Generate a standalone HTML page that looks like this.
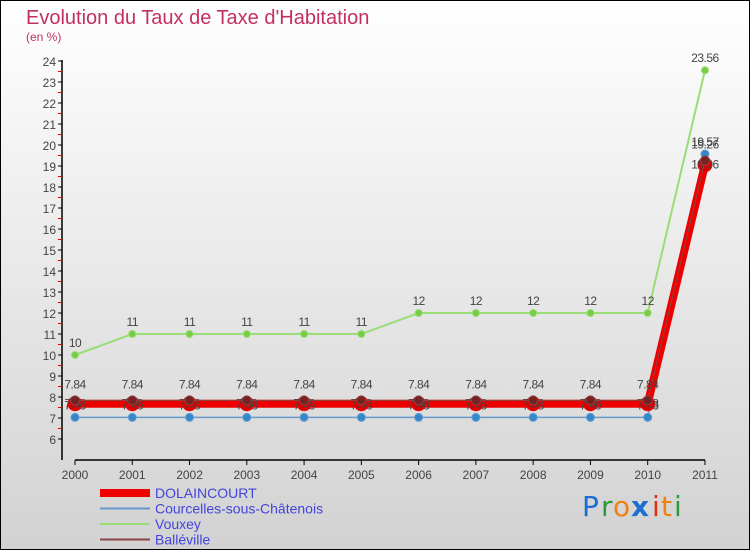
<!DOCTYPE html>
<html><head><meta charset="utf-8"><style>
html,body{margin:0;padding:0}
body{width:750px;height:550px;overflow:hidden;font-family:"Liberation Sans",sans-serif}
</style></head><body>
<svg id="c" width="750" height="550" xmlns="http://www.w3.org/2000/svg">
<defs><linearGradient id="bg" x1="0" y1="0" x2="0" y2="1"><stop offset="0" stop-color="#ffffff"/><stop offset="1" stop-color="#d2d2d2"/></linearGradient></defs>
<rect x="0.5" y="0.5" width="749" height="549" fill="url(#bg)" stroke="#000"/>
<text x="26" y="24" font-size="20" fill="#c4305e">Evolution du Taux de Taxe d'Habitation</text>
<text x="26" y="41" font-size="12" fill="#c4305e">(en %)</text>
<g id="axes"></g><g id="series"></g><g id="legend"></g>
<g font-size="28" font-family="'DejaVu Sans',sans-serif">
<text x="582" y="516" fill="#1a6fd0">P</text><text x="601" y="516" fill="#2a9a3a">r</text><text x="613" y="516" fill="#f08010">o</text><text x="631" y="516" fill="#1a6fd0" font-weight="bold">x</text><text x="652" y="516" fill="#e03010">i</text><text x="661" y="516" fill="#f08010">t</text><text x="674" y="516" fill="#2a9a3a">i</text></g>
</svg>
<script>
const years=["2000","2001","2002","2003","2004","2005","2006","2007","2008","2009","2010","2011"];
const dolaincourt=[7.68,7.68,7.68,7.68,7.68,7.68,7.68,7.68,7.68,7.68,7.68,19.06];
const courcelles=[7.03,7.03,7.03,7.03,7.03,7.03,7.03,7.03,7.03,7.03,7.03,19.57];
const vouxey=[10,11,11,11,11,11,12,12,12,12,12,23.56];
const balleville=[7.84,7.84,7.84,7.84,7.84,7.84,7.84,7.84,7.84,7.84,7.84,19.26];
const yTicks=[6,7,8,9,10,11,12,13,14,15,16,17,18,19,20,21,22,23,24];
const NS="http://www.w3.org/2000/svg";
const X=i=>75+i*57.27, Y=v=>439-(v-6)*21;
function mk(p,t,a){const e=document.createElementNS(NS,t);for(const k in a)e.setAttribute(k,a[k]);p.appendChild(e);return e;}
const ax=document.getElementById('axes');
let l=mk(ax,'path',{d:`M62,${Y(24)-1}V460M${X(0)},460H${X(11)}`,stroke:'#000','stroke-width':1.5,fill:'none'});


yTicks.forEach(v=>{
 let t=mk(ax,'line',{x1:58,x2:62,y1:Y(v),y2:Y(v),stroke:'#000'});
 
 
 if(v<24){let r=mk(ax,'line',{x1:58,x2:62,y1:Y(v+0.5),y2:Y(v+0.5),stroke:'#e00'});
 
 }
 let s=mk(ax,'text',{x:56,y:Y(v)+5,'text-anchor':'end','font-size':12,fill:'#444'});s.textContent=v;
 
 
});
years.forEach((y,i)=>{
 let t=mk(ax,'line',{x1:X(i),x2:X(i),y1:460,y2:465,stroke:'#000'});
 
 
 let s=mk(ax,'text',{x:X(i),y:479,'text-anchor':'middle','font-size':12,fill:'#444'});s.textContent=y;
 
 
});
const sg=document.getElementById('series');
function series(name,data,color,w,r,mcol,lblDy){
 const g=mk(sg,'g',{});
 
 
 const p=mk(g,'polyline',{points:data.map((v,i)=>X(i)+','+Y(v)).join(' '),fill:'none',stroke:color,'stroke-width':w});
 
 
 data.forEach((v,i)=>{
  const c=mk(g,'circle',{cx:X(i),cy:Y(v),r:r,fill:mcol,stroke:color,'stroke-width':1});
  
  
  const t=mk(g,'text',{x:X(i),y:Y(v)+lblDy,'text-anchor':'middle','font-size':12,fill:'#444','letter-spacing':'-0.5'});t.textContent=String(v);
  
  
 });
}
series('vouxey',vouxey,'#99dd77',2,3.5,'#77cc44',-8);
series('courcelles',courcelles,'#6699cc',1.5,4,'#3388cc',-8+18*0);
series('dolaincourt',dolaincourt,'#ee0000',8,7,'#dd0000',4);
series('balleville',balleville,'#884444',1,4.5,'#772222',-12);
const lg=document.getElementById('legend');
[['dolaincourt','DOLAINCOURT','#ee0000',8],['courcelles','Courcelles-sous-Châtenois','#6699cc',2],['vouxey','Vouxey','#99dd77',2],['balleville','Balléville','#884444',2]].forEach((e,k)=>{
 const y=493+k*15.5;
 const g=mk(lg,'g',{});
 
 
 mk(g,'line',{x1:100,x2:150,y1:y,y2:y,stroke:e[2],'stroke-width':e[3]});
 const t=mk(g,'text',{x:155,y:y+5,'font-size':14,fill:'#4444dd'});t.textContent=e[1];
});
</script>
</body></html>
